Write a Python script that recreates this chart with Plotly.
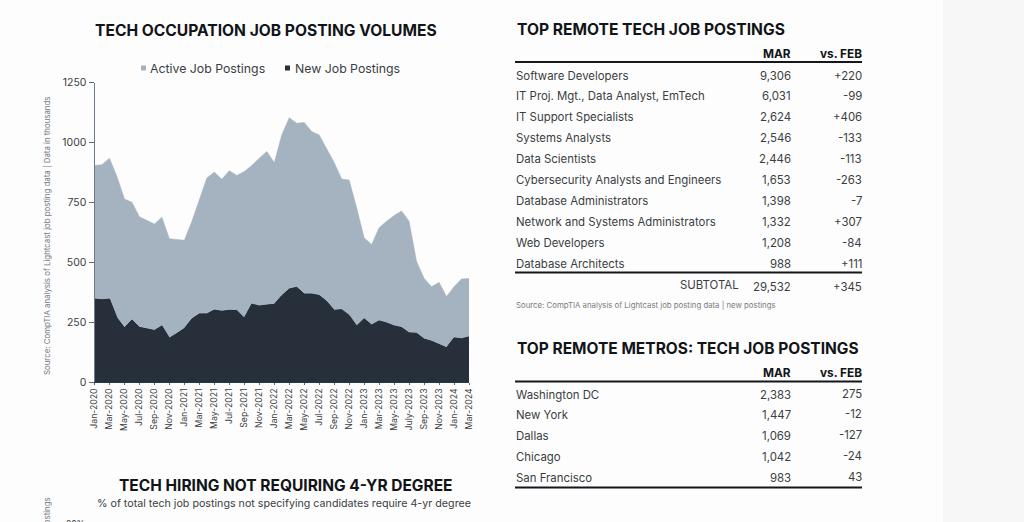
import plotly.graph_objects as go

W, H = 1024, 522

months = ["Jan-2020","Feb-2020","Mar-2020","Apr-2020","May-2020","Jun-2020","Jul-2020","Aug-2020","Sep-2020","Oct-2020","Nov-2020","Dec-2020",
          "Jan-2021","Feb-2021","Mar-2021","Apr-2021","May-2021","Jun-2021","Jul-2021","Aug-2021","Sep-2021","Oct-2021","Nov-2021","Dec-2021",
          "Jan-2022","Feb-2022","Mar-2022","Apr-2022","May-2022","Jun-2022","Jul-2022","Aug-2022","Sep-2022","Oct-2022","Nov-2022","Dec-2022",
          "Jan-2023","Feb-2023","Mar-2023","Apr-2023","May-2023","Jun-2023","July-2023","Aug-2023","Sep-2023","Oct-2023","Nov-2023","Dec-2023",
          "Jan-2024","Feb-2024","Mar-2024"]
active_postings = [904,907,934,858,764,750,690,676,659,688,598,595,592,671,761,851,876,846,882,862,879,904,934,962,916,1031,1103,1080,1083,1045,1031,976,916,847,843,727,602,574,644,671,695,714,671,503,433,398,416,357,398,430,432]
new_postings = [346,343,346,267,226,259,228,221,215,234,183,202,223,263,284,284,300,295,299,298,267,325,317,321,324,360,388,395,367,367,361,336,299,302,278,234,264,238,255,246,234,227,205,203,179,170,158,143,184,180,188]
y_ticks = [0,250,500,750,1000,1250]

occupations = ["Software Developers","IT Proj. Mgt., Data Analyst, EmTech","IT Support Specialists","Systems Analysts","Data Scientists","Cybersecurity Analysts and Engineers","Database Administrators","Network and Systems Administrators","Web Developers","Database Architects"]
occ_mar = ["9,306","6,031","2,624","2,546","2,446","1,653","1,398","1,332","1,208","988"]
occ_feb = ["+220","-99","+406","-133","-113","-263","-7","+307","-84","+111"]
metros = ["Washington DC","New York","Dallas","Chicago","San Francisco"]
metro_mar = ["2,383","1,447","1,069","1,042","983"]
metro_feb = ["275","-12","-127","-24","43"]

FONT = "Inter"
INK = "#111418"
BODY = "#3a3d42"

def px(x): return x / W
def py(y): return 1 - y / H

annotations, shapes = [], []

def text(x, y, s, size=11, color=BODY, anchor="left", bold=False, angle=0):
    annotations.append(dict(x=px(x), y=py(y), xref="paper", yref="paper", text=f"<b>{s}</b>" if bold else s,
                            showarrow=False, xanchor=anchor, yanchor="middle", textangle=angle,
                            font=dict(family=FONT, size=size, color=color)))

def rule(x0, x1, y, width):
    shapes.append(dict(type="line", xref="paper", yref="paper", x0=px(x0), x1=px(x1), y0=py(y), y1=py(y),
                       line=dict(color="#14171b", width=width)))

def swatch(x, y, color):
    shapes.append(dict(type="rect", xref="paper", yref="paper", x0=px(x), x1=px(x+5), y0=py(y-2.5), y1=py(y+2.5),
                       fillcolor=color, line=dict(width=0)))

# Page background beyond the document edge
shapes.append(dict(type="rect", xref="paper", yref="paper", x0=px(943), x1=1, y0=0, y1=1,
                   fillcolor="#f7f7f7", line=dict(width=0), layer="below"))

# Left chart text
text(265.5, 30, "TECH OCCUPATION JOB POSTING VOLUMES", 15.6, INK, "center", True)
swatch(141, 68, "#a5b2bf")
text(148, 68, "Active Job Postings", 12.3)
swatch(285, 68, "#262f3a")
text(293, 68, "New Job Postings", 12.3)
text(47, 236, "Source: CompTIA analysis of Lightcast job posting data | Data in thousands", 7.85, "#77797d", "center", angle=-90)

# Clipped next panel
text(286, 485, "TECH HIRING NOT REQUIRING 4-YR DEGREE", 15.5, INK, "center", True)
text(283.5, 503, "% of total tech job postings not specifying candidates require 4-yr degree", 10.7, BODY, "center")
text(47, 513, "postings", 7.85, "#77797d", "center", angle=-90)
text(75, 524, "80%", 8.5, BODY, "center")

# First table
L, M, R = 514, 793, 864
text(515, 29, "TOP REMOTE TECH JOB POSTINGS", 15.6, INK, "left", True)
text(M, 54, "MAR", 11.8, INK, "right", True)
text(R, 54, "vs. FEB", 11.8, INK, "right", True)
rule(515, 862, 62, 2)
for i, (a, b, c) in enumerate(zip(occupations, occ_mar, occ_feb)):
    y = 75.5 + i * 20.98
    text(L, y, a, 11.4)
    text(M, y, b, 11.4, anchor="right")
    text(R, y, c, 11.4, anchor="right")
rule(515, 862, 272.5, 2)
text(741, 285, "SUBTOTAL", 11.4, anchor="right")
text(M, 287, "29,532", 11.4, anchor="right")
text(R, 287, "+345", 11.4, anchor="right")
text(514, 305, "Source: CompTIA analysis of Lightcast job posting data | new postings", 7.8, "#7a7c80")

# Second table
text(515, 348, "TOP REMOTE METROS: TECH JOB POSTINGS", 15.5, INK, "left", True)
text(M, 373, "MAR", 11.8, INK, "right", True)
text(R, 373, "vs. FEB", 11.8, INK, "right", True)
rule(515, 862, 381.5, 2)
for i, (a, b, c) in enumerate(zip(metros, metro_mar, metro_feb)):
    y = 394.5 + i * 20.9
    text(L, y, a, 11.4)
    text(M, y, b, 11.4, anchor="right")
    text(R, y - 1, c, 11.4, anchor="right")
rule(515, 862, 487.5, 2)

fig = go.Figure()
fig.add_trace(go.Scatter(x=list(range(len(months))), y=active_postings, name="Active Job Postings", mode="lines",
                         fill="tozeroy", fillcolor="#a5b2bf", line=dict(color="#a5b2bf", width=0.5)))
fig.add_trace(go.Scatter(x=list(range(len(months))), y=new_postings, name="New Job Postings", mode="lines",
                         fill="tozeroy", fillcolor="#262f3a", line=dict(color="#1f2a36", width=1)))

fig.update_layout(
    width=W, height=H, autosize=False, margin=dict(l=0, r=0, t=0, b=0, autoexpand=False),
    paper_bgcolor="#fdfdfd", plot_bgcolor="rgba(0,0,0,0)", showlegend=False,
    font=dict(family=FONT, color=BODY),
    annotations=annotations, shapes=shapes,
    xaxis=dict(domain=[px(94.5), px(469)], range=[0, 50], tickmode="array",
               tickvals=list(range(0, len(months), 2)), ticktext=months[::2], tickangle=-90,
               tickfont=dict(size=8.7, color=BODY), ticks="outside", ticklen=2, tickcolor="#5b6b7a",
               showgrid=False, zeroline=False, showline=True, linecolor="#1f3a4d", linewidth=1),
    yaxis=dict(domain=[py(382), py(82.5)], range=[0, 1250], tickmode="array", tickvals=y_ticks,
               ticktext=[str(v) for v in y_ticks], tickfont=dict(size=10.5, color=BODY), ticks="outside",
               ticklen=5, tickcolor="#5b6b7a", showgrid=False, zeroline=False, showline=True,
               linecolor="#6b7b8a", linewidth=1),
)
fig.write_html("out.html", config={"displayModeBar": False},
               post_script="document.body.style.margin='0';document.body.style.overflow='hidden';document.body.style.background='#fdfdfd';")
